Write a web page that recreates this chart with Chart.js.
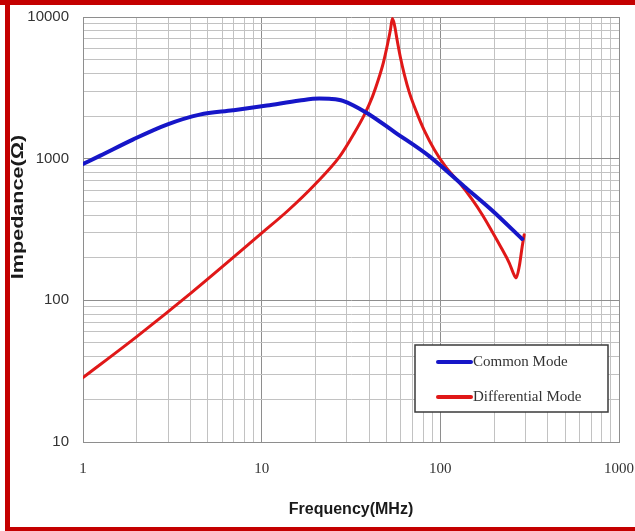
<!DOCTYPE html>
<html>
<head>
<meta charset="utf-8">
<script src="https://cdn.jsdelivr.net/npm/chart.js@4.4.0/dist/chart.umd.min.js"></script>
<style>
html,body{margin:0;padding:0;background:#fff;}
#wrap{position:relative;width:635px;height:531px;overflow:hidden;background:#fff;}
#c{position:absolute;left:0;top:0;}
.bar{position:absolute;background:#c40000;pointer-events:none;}
</style>
</head>
<body>
<div id="wrap">
<canvas id="c" width="635" height="531"></canvas>
<div class="bar" style="left:0;top:0;width:635px;height:5px"></div>
<div class="bar" style="left:5px;top:0;width:5px;height:531px"></div>
<div class="bar" style="left:5px;top:527px;width:630px;height:4px"></div>
</div>
<script>
// ---- data ----
const xTickLabels = ['1', '10', '100', '1000'];          // Frequency (MHz)
const yTickLabels = ['10', '100', '1000', '10000'];      // Impedance (Ω)
const seriesNames = ['Common Mode', 'Differential Mode'];

const cmFreq      = [1, 1.25, 1.9, 2.95, 4.5, 6.9, 10.7, 16.3, 21, 24.6, 28.5, 38.8, 55.5, 87, 136, 193, 287];
const cmImpedance = [917, 1050, 1363, 1740, 2046, 2195, 2369, 2570, 2655, 2640, 2560, 2103, 1540, 1038, 637, 436, 271];

const dmFreq      = [1, 2, 4, 10, 14, 19.8, 27.3, 33.1, 37.6, 41.7, 45.0, 48.0, 50.6, 52.6, 53.9,
                     55.3, 57.5, 59.8, 62.9, 67.1, 73.4, 81.4, 92.6, 108, 127.7, 150.9, 171.7, 195.2,
                     219.2, 242.9, 255.7, 265.8, 276.3, 287.1, 294.6];
const dmImpedance = [28.5, 55.5, 112, 298, 429, 655, 1033, 1527, 2046, 2743, 3617, 4768, 6393, 8160, 9750,
                     8851, 6711, 5173, 3923, 2927, 2149, 1578, 1158, 864, 677, 513, 402, 305,
                     235, 184, 156.5, 144.2, 172.5, 238.8, 290.4];

// grid lines at 1..9 of every decade between the labelled ticks
function logGrid(labels) {
  const dec = labels.map(Number);
  const out = [];
  for (let i = 0; i < dec.length - 1; i++) {
    for (let k = 1; k <= 9; k++) out.push(dec[i] * k);
  }
  out.push(dec[dec.length - 1]);
  return out;
}
const xGrid = logGrid(xTickLabels);
const yGrid = logGrid(yTickLabels);

const isDecade = v => Math.abs(Math.log10(v) - Math.round(Math.log10(v))) < 1e-9;
const gridColor = ctx => (ctx.tick && isDecade(ctx.tick.value)) ? '#8e8e8e' : '#c2c2c2';

const SANS = '"Liberation Sans", Arial, sans-serif';
const SERIF = '"Liberation Serif", "Times New Roman", serif';

const legendBox = {
  id: 'legendBox',
  afterDatasetsDraw(chart) {
    const {ctx, chartArea: a} = chart;
    const w = 193, h = 67;
    const x0 = a.right - 11 - w, y0 = a.bottom - 30 - h;
    ctx.save();
    ctx.fillStyle = '#ffffff';
    ctx.fillRect(x0, y0, w, h);
    ctx.strokeStyle = '#3a3a3a';
    ctx.lineWidth = 1.5;
    ctx.strokeRect(x0, y0, w, h);
    ctx.font = '15px ' + SERIF;
    ctx.textBaseline = 'middle';
    ctx.textAlign = 'left';
    chart.data.datasets.forEach((ds, i) => {
      const yy = y0 + 17 + i * 35;
      ctx.strokeStyle = ds.borderColor;
      ctx.lineWidth = 4;
      ctx.lineCap = 'round';
      ctx.beginPath();
      ctx.moveTo(x0 + 23, yy);
      ctx.lineTo(x0 + 56, yy);
      ctx.stroke();
      ctx.fillStyle = '#333333';
      ctx.fillText(ds.label, x0 + 58, yy);
    });
    ctx.restore();
  }
};

const yTitle = {
  id: 'yTitle',
  afterDraw(chart) {
    const t = chart.options.scales.y.title;
    const ctx = chart.ctx;
    ctx.save();
    ctx.translate(19, 207);
    ctx.rotate(-Math.PI / 2);
    ctx.scale(1.35, 1);
    ctx.font = 'bold 16px ' + SANS;
    ctx.fillStyle = '#1a1a1a';
    ctx.textAlign = 'center';
    ctx.textBaseline = 'middle';
    ctx.fillText(t.text, 0, 0);
    ctx.restore();
  }
};

new Chart(document.getElementById('c'), {
  type: 'line',
  data: {
    datasets: [
      {
        label: seriesNames[0],
        data: cmFreq.map((f, i) => ({x: f, y: cmImpedance[i]})),
        borderColor: '#1616c8',
        borderWidth: 4,
        pointRadius: 0,
        cubicInterpolationMode: 'monotone',
        borderCapStyle: 'round',
        borderJoinStyle: 'round',
        fill: false
      },
      {
        label: seriesNames[1],
        data: dmFreq.map((f, i) => ({x: f, y: dmImpedance[i]})),
        borderColor: '#e01818',
        borderWidth: 3,
        pointRadius: 0,
        cubicInterpolationMode: 'monotone',
        borderCapStyle: 'round',
        borderJoinStyle: 'round',
        fill: false
      }
    ]
  },
  options: {
    responsive: false,
    animation: false,
    layout: {padding: {top: 17, right: 16, bottom: 0, left: 0}},
    plugins: {legend: {display: false}, tooltip: {enabled: false}},
    scales: {
      x: {
        type: 'logarithmic',
        position: 'bottom',
        min: Number(xTickLabels[0]),
        max: Number(xTickLabels[xTickLabels.length - 1]),
        afterBuildTicks: s => { s.ticks = xGrid.map(v => ({value: v})); },
        afterFit: s => { s.height = 89; s.paddingLeft = 0; s.paddingRight = 0; s.paddingTop = 0; s.paddingBottom = 0; },
        ticks: {
          autoSkip: false, maxRotation: 0, minRotation: 0, padding: 18,
          color: '#333333',
          font: {family: SERIF, size: 15},
          callback: v => xTickLabels.includes(String(v)) ? String(v) : ''
        },
        grid: {drawTicks: false, color: gridColor, lineWidth: 1},
        border: {color: '#8e8e8e', width: 1},
        title: {
          display: true, text: 'Frequency(MHz)', color: '#1a1a1a',
          font: {family: SANS, size: 16, weight: 'bold'},
          padding: {top: 0, bottom: 12}
        }
      },
      y: {
        type: 'logarithmic',
        position: 'left',
        min: Number(yTickLabels[0]),
        max: Number(yTickLabels[yTickLabels.length - 1]),
        afterBuildTicks: s => { s.ticks = yGrid.map(v => ({value: v})); },
        afterFit: s => { s.width = 83; s.paddingLeft = 0; s.paddingRight = 0; s.paddingTop = 0; s.paddingBottom = 0; },
        ticks: {
          autoSkip: false, padding: 14,
          color: '#333333',
          font: {family: SANS, size: 15},
          callback: v => yTickLabels.includes(String(v)) ? String(v) : ''
        },
        grid: {drawTicks: false, color: gridColor, lineWidth: 1},
        border: {color: '#8e8e8e', width: 1},
        title: {display: false, text: 'Impedance(Ω)'}
      }
    }
  },
  plugins: [legendBox, yTitle]
});
</script>
</body>
</html>
